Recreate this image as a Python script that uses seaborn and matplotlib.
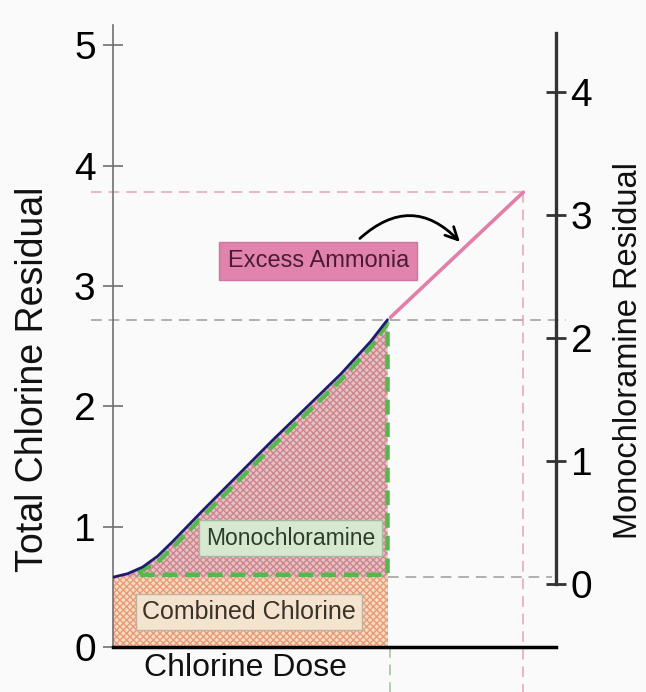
import matplotlib
matplotlib.use("Agg")
import matplotlib.pyplot as plt
import seaborn as sns

# values (dose in arbitrary units, residual in mg/L)
dose = [0, 0.15, 0.3, 0.45, 0.6, 0.9, 1.25, 1.6, 1.95, 2.3, 2.6, 2.77]
total_residual = [0.58, 0.61, 0.665, 0.755, 0.875, 1.13, 1.42, 1.71, 1.99, 2.27, 2.54, 2.72]
excess_dose = [2.80, 4.14]
excess_residual = [2.74, 3.78]
combined_level = 0.58
mono_end_dose = 2.77
left_ticks = [0, 1, 2, 3, 4, 5]
right_ticks = [0, 1, 2, 3, 4]

sns.set_theme(style="white")
plt.rcParams["font.family"] = ["Liberation Sans", "DejaVu Sans"]

fig = plt.figure(figsize=(6.46, 6.92), dpi=100, facecolor="#fafafa")
ax = fig.add_axes([113 / 646, 1 - 647 / 692, 443 / 646, 622 / 692])
ax.set_facecolor("#fafafa")
ax.set_xlim(0, 4.47)
ax.set_ylim(0, 5.17)

# combined chlorine block and monochloramine wedge (checker texture)
ax.fill_between([0, mono_end_dose], 0, combined_level, facecolor="#f7dcc2",
                edgecolor="#e99a78", hatch="xxxxx", linewidth=0, zorder=1)
ax.fill_between(dose, combined_level, total_residual, facecolor="#e4c2c5",
                edgecolor="#cd868d", hatch="xxxxx", linewidth=0, zorder=1)

# guide lines
gray = "#9c9c9c"
ax.plot([-0.22, 4.57], [total_residual[-1], total_residual[-1]], color=gray,
        lw=1.1, dashes=(7, 4.5), clip_on=False, zorder=2)
ax.plot([mono_end_dose, 4.43], [combined_level, combined_level], color=gray,
        lw=1.1, dashes=(7, 4.5), clip_on=False, zorder=2)
ax.plot([-0.22, excess_dose[-1]], [excess_residual[-1]] * 2, color="#e3a6b6",
        lw=1.1, dashes=(7, 4.5), clip_on=False, zorder=2)
ax.plot([excess_dose[-1]] * 2, [excess_residual[-1], -0.4], color="#e3a6b6",
        lw=1.1, dashes=(7, 4.5), clip_on=False, zorder=2)
ax.plot([mono_end_dose + 0.02] * 2, [0, -0.4], color="#9cc49c",
        lw=1.1, dashes=(7, 4.5), clip_on=False, zorder=2)

# green dashed outline of the monochloramine wedge
gx = [0.25] + dose[3:-1] + [mono_end_dose, mono_end_dose, 0.25]
gy = [combined_level + 0.04] + [t - 0.05 for t in total_residual[3:-1]] + \
     [total_residual[-1] - 0.03, combined_level + 0.02, combined_level + 0.02]
ax.plot(gx, gy, color="#56b84a", lw=3.2, dashes=(3.3, 1.8), zorder=3,
        solid_joinstyle="miter")

# total chlorine curve and excess ammonia line
sns.lineplot(x=dose, y=total_residual, ax=ax, color="#1c1c70", lw=2,
             sort=False, zorder=4)
sns.lineplot(x=excess_dose, y=excess_residual, ax=ax, color="#e07fa8",
             lw=2.6, sort=False, zorder=4)

# labels in boxes
ax.text(1.37, 0.29, "Combined Chlorine", fontsize=18, color="#3a3228",
        ha="center", va="center", zorder=5,
        bbox=dict(boxstyle="square,pad=0.25", fc="#f4e4cf", ec="#c0b29e", lw=1))
ax.text(1.79, 0.905, "Monochloramine", fontsize=16.5, color="#2e3a2a",
        ha="center", va="center", zorder=5,
        bbox=dict(boxstyle="square,pad=0.3", fc="#d6e8d0", ec="#aab6a4", lw=1))
ax.text(2.07, 3.21, "Excess Ammonia", fontsize=17, color="#4a1c34",
        ha="center", va="center", zorder=5,
        bbox=dict(boxstyle="square,pad=0.35", fc="#e283ab", ec="#c8789c", lw=1))
ax.annotate("", xy=(3.52, 3.35), xytext=(2.47, 3.38),
            arrowprops=dict(arrowstyle="->", color="black", lw=2,
                            mutation_scale=22,
                            connectionstyle="arc3,rad=-0.5"), zorder=6)

# left axis
for s in ["top", "right"]:
    ax.spines[s].set_visible(False)
ax.spines["left"].set_color("#707070")
ax.spines["left"].set_linewidth(1.2)
ax.spines["bottom"].set_color("black")
ax.spines["bottom"].set_linewidth(2.5)
ax.set_yticks(left_ticks)
ax.set_xticks([])
ax.tick_params(axis="y", direction="inout", length=15, width=1.2,
               color="#707070", labelsize=28, labelcolor="black", pad=5, left=True)
ax.set_ylabel("Total Chlorine Residual", fontsize=27, color="#111111")
ax.yaxis.set_label_coords(-0.14, 0.43)
ax.set_xlabel("Chlorine Dose", fontsize=23, color="#111111")
ax.xaxis.set_label_coords(0.30, -0.01)

# right axis (monochloramine residual)
ax2 = ax.twinx()
ax2.set_ylim(-0.511, 4.545)
for s in ["top", "left", "bottom"]:
    ax2.spines[s].set_visible(False)
ax2.spines["right"].set_color("#333333")
ax2.spines["right"].set_linewidth(2.4)
ax2.spines["right"].set_bounds(0, 4.48)
ax2.set_yticks(right_ticks)
ax2.tick_params(axis="y", direction="inout", length=15, width=2,
                color="#333333", labelsize=28, labelcolor="black", pad=3, right=True)
ax2.set_ylabel("Monochloramine Residual", fontsize=23.5, rotation=90, color="#111111")
ax2.yaxis.set_label_coords(1.128, 0.477)
ax2.grid(False)
ax.grid(False)

fig.savefig("out.png", dpi=100, facecolor=fig.get_facecolor())
